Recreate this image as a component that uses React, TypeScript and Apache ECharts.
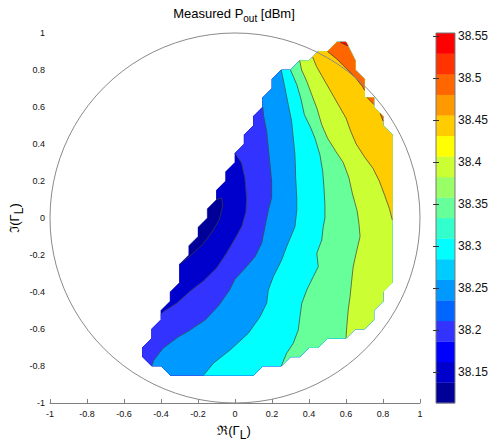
import React, { useEffect, useRef } from 'react';
import * as echarts from 'echarts';

// ---------- data (reflection coefficient plane, Gamma_L) ----------
// outer limit of the measured region (grid steps of 0.05), listed around the region
const boundary: number[][] = [
  [-0.2, -0.1], [-0.2, -0.05], [-0.15, 0], [-0.15, 0.05], [-0.1, 0.1], [-0.1, 0.15], [-0.05, 0.2], [-0.05, 0.25], [0, 0.3], [0, 0.35],
  [0.05, 0.4], [0.05, 0.45], [0.1, 0.5], [0.1, 0.55], [0.15, 0.6], [0.15, 0.65], [0.2, 0.7], [0.2, 0.75], [0.25, 0.8], [0.3, 0.8],
  [0.35, 0.85], [0.4, 0.85], [0.42, 0.87], [0.45, 0.9], [0.5, 0.9], [0.55, 0.95], [0.57, 0.95], [0.6, 0.95], [0.61, 0.93], [0.65, 0.85],
  [0.65, 0.8], [0.7, 0.75], [0.7, 0.69], [0.7, 0.65], [0.715, 0.65], [0.75, 0.65], [0.75, 0.615], [0.75, 0.6], [0.785, 0.565], [0.8, 0.55],
  [0.8, 0.525], [0.8, 0.5], [0.85, 0.45], [0.85, -0.01], [0.85, -0.35], [0.8, -0.4], [0.8, -0.45], [0.75, -0.5], [0.75, -0.55], [0.7, -0.6],
  [0.65, -0.6], [0.6, -0.65], [0.5, -0.65], [0.45, -0.7], [0.4, -0.7], [0.35, -0.75], [0.3, -0.75], [0.25, -0.8], [0.15, -0.8], [0.1, -0.85],
  [-0.17, -0.85], [-0.35, -0.85], [-0.4, -0.8], [-0.45, -0.8], [-0.5, -0.75], [-0.5, -0.7], [-0.45, -0.65], [-0.45, -0.6], [-0.4, -0.55], [-0.4, -0.52],
  [-0.4, -0.5], [-0.35, -0.45], [-0.35, -0.4], [-0.3, -0.35], [-0.3, -0.3], [-0.3, -0.25], [-0.25, -0.2], [-0.25, -0.15],
];

// contour lines (first and last points lie on the boundary)
const c3815: number[][] = [[-0.1, 0.1], [-0.072, 0.108], [-0.066, 0.065], [-0.086, -0.011], [-0.124, -0.076], [-0.178, -0.146], [-0.243, -0.205], [-0.3, -0.25]];
const c3820: number[][] = [[0, 0.35], [0.036, 0.297], [0.054, 0.216], [0.063, 0.108], [0.059, 0.032], [0.038, -0.043], [0.009, -0.097], [-0.045, -0.189], [-0.099, -0.27], [-0.17, -0.34], [-0.238, -0.392], [-0.315, -0.461], [-0.385, -0.505], [-0.4, -0.52]];
const c3825: number[][] = [[0.15, 0.6], [0.155, 0.55], [0.171, 0.47], [0.18, 0.38], [0.189, 0.29], [0.198, 0.2], [0.198, 0.11], [0.18, 0.04], [0.162, -0.047], [0.144, -0.137], [0.108, -0.209], [0.054, -0.272], [0.0, -0.33], [-0.03, -0.39], [-0.09, -0.475], [-0.16, -0.55], [-0.25, -0.61], [-0.31, -0.645], [-0.39, -0.705], [-0.44, -0.77], [-0.45, -0.8]];
const c3830: number[][] = [[0.25, 0.8], [0.27, 0.703], [0.288, 0.612], [0.306, 0.523], [0.315, 0.432], [0.324, 0.342], [0.328, 0.216], [0.334, 0.108], [0.334, 0.043], [0.324, -0.047], [0.279, -0.155], [0.252, -0.227], [0.207, -0.317], [0.18, -0.389], [0.171, -0.461], [0.135, -0.534], [0.072, -0.623], [-0.027, -0.714], [-0.117, -0.785], [-0.17, -0.85]];
const c3835: number[][] = [[0.3, 0.8], [0.334, 0.721], [0.355, 0.649], [0.375, 0.558], [0.41, 0.486], [0.432, 0.432], [0.459, 0.342], [0.474, 0.252], [0.481, 0.162], [0.486, 0.072], [0.486, 0], [0.477, -0.047], [0.469, -0.119], [0.442, -0.191], [0.45, -0.263], [0.423, -0.317], [0.388, -0.389], [0.361, -0.461], [0.351, -0.534], [0.342, -0.605], [0.315, -0.677], [0.279, -0.731], [0.25, -0.8]];
const c3840: number[][] = [[0.35, 0.85], [0.36, 0.8], [0.388, 0.739], [0.415, 0.666], [0.442, 0.595], [0.469, 0.504], [0.5, 0.432], [0.545, 0.36], [0.585, 0.3], [0.615, 0.22], [0.635, 0.13], [0.66, 0.04], [0.67, -0.03], [0.676, -0.1], [0.655, -0.19], [0.639, -0.263], [0.631, -0.335], [0.622, -0.425], [0.612, -0.497], [0.604, -0.588], [0.6, -0.65]];
const c3845: number[][] = [[0.42, 0.87], [0.44, 0.82], [0.48, 0.75], [0.52, 0.68], [0.56, 0.61], [0.6, 0.54], [0.625, 0.47], [0.655, 0.4], [0.7, 0.33], [0.745, 0.27], [0.78, 0.2], [0.81, 0.12], [0.835, 0.05], [0.85, -0.01]];
const c3850: number[][] = [[0.5, 0.9], [0.55, 0.86], [0.6, 0.81], [0.65, 0.76], [0.69, 0.71], [0.7, 0.69]];
const c3850b: number[][] = [[0.715, 0.65], [0.75, 0.615]];
const c3850c: number[][] = [[0.785, 0.565], [0.8, 0.525]];
const c3855: number[][] = [[0.57, 0.95], [0.61, 0.93]];

const contourLevels: number[] = [38.15, 38.2, 38.25, 38.3, 38.35, 38.4, 38.45, 38.5, 38.5, 38.5, 38.55];
const contourLines: number[][][] = [c3815, c3820, c3825, c3830, c3835, c3840, c3845, c3850, c3850b, c3850c, c3855];

// colour bar
const cbMin = 38.113;
const cbMax = 38.554;
const cbTicks: number[] = [38.15, 38.2, 38.25, 38.3, 38.35, 38.4, 38.45, 38.5, 38.55];
const colormap: string[] = [
  '#000099', '#0000cc', '#0000ff', '#3333ff', '#0066ff', '#0099ff', '#00ccff', '#00ffff', '#33ffcc',
  '#66ff99', '#99ff66', '#ccff33', '#ffff00', '#ffcc00', '#ff9900', '#ff6600', '#ff3300', '#ff0000',
];

// ---------- helpers ----------
const FONT = '"Liberation Sans", Arial, Helvetica, sans-serif';

function colorFor(v: number): string {
  const n = colormap.length;
  const i = Math.max(0, Math.min(n - 1, Math.floor(((v - cbMin) / (cbMax - cbMin)) * n)));
  return colormap[i];
}

function idxOf(p: number[]): number {
  return boundary.findIndex((q) => q[0] === p[0] && q[1] === p[1]);
}

function regionPoly(line: number[][]): number[][] {
  const a = idxOf(line[0]);
  const b = idxOf(line[line.length - 1]);
  const arc = boundary.slice(a, b + 1);
  return arc.concat(line.slice(1, -1).reverse());
}

const regionList = [{ poly: boundary, color: colorFor(cbMin) }].concat(
  contourLines.map((line, i) => ({ poly: regionPoly(line), color: colorFor(contourLevels[i]) }))
);

function measure(text: string, size: number): number {
  const ctx = document.createElement('canvas').getContext('2d');
  if (!ctx) return text.length * size * 0.55;
  ctx.font = `${size}px ${FONT}`;
  return ctx.measureText(text).width;
}

type Part = { t: string; size: number; dy: number };

function buildLabel(parts: Part[], cx: number, cy: number): any[] {
  const widths = parts.map((p) => measure(p.t, p.size));
  const total = widths.reduce((a, b) => a + b, 0);
  let x = cx - total / 2;
  const out: any[] = [];
  parts.forEach((p, i) => {
    const lead = p.t.length - p.t.replace(/^\s+/, '').length;
    const leadW = lead > 0 ? measure(p.t.slice(0, lead), p.size) : 0;
    out.push({
      type: 'text',
      x: x + leadW,
      y: cy + p.dy,
      silent: true,
      style: {
        text: p.t.trim(),
        font: `${p.size}px ${FONT}`,
        fill: '#000',
        textAlign: 'left',
        textVerticalAlign: 'middle',
        align: 'left',
        verticalAlign: 'middle',
      },
    });
    x += widths[i];
  });
  return out;
}

export default function App() {
  const ref = useRef<HTMLDivElement>(null);

  useEffect(() => {
    if (!ref.current) return;
    const chart = echarts.init(ref.current, null, { renderer: 'svg' });

    const axisColor = '#808080';
    const option: any = {
      animation: false,
      backgroundColor: '#ffffff',
      grid: [
        { left: 50, top: 33, width: 370, height: 370 },
        { left: 436, top: 33, width: 21, height: 370 },
      ],
      xAxis: [
        {
          gridIndex: 0, type: 'value', min: -1, max: 1, interval: 0.2,
          axisLine: { show: true, onZero: false, lineStyle: { color: axisColor, width: 1 } },
          axisTick: { show: true, inside: true, length: 4, lineStyle: { color: axisColor } },
          axisLabel: { fontSize: 9, color: '#111', margin: 6, fontFamily: FONT },
          splitLine: { show: false },
        },
        { gridIndex: 1, type: 'value', min: 0, max: 1, show: false },
      ],
      yAxis: [
        {
          gridIndex: 0, type: 'value', min: -1, max: 1, interval: 0.2,
          axisLine: { show: false, onZero: false },
          axisTick: { show: false },
          axisLabel: { fontSize: 9, color: '#111', margin: 5, fontFamily: FONT },
          splitLine: { show: false },
        },
        {
          gridIndex: 1, type: 'value', min: cbMin, max: cbMax, position: 'right', z: 5,
          axisLine: { show: false },
          axisTick: { show: true, inside: true, length: 3, customValues: cbTicks, lineStyle: { color: '#333' } },
          axisLabel: {
            customValues: cbTicks, fontSize: 12, color: '#111', margin: 3, fontFamily: FONT,
            formatter: (v: number) => String(+Number(v).toFixed(2)),
          },
          splitLine: { show: false },
        },
        {
          gridIndex: 1, type: 'value', min: cbMin, max: cbMax, position: 'left', z: 5,
          axisLine: { show: false },
          axisTick: { show: true, inside: true, length: 3, customValues: cbTicks, lineStyle: { color: '#333' } },
          axisLabel: { show: false, customValues: cbTicks },
          splitLine: { show: false },
        },
      ],
      series: [
        {
          type: 'custom', name: 'regions', xAxisIndex: 0, yAxisIndex: 0, silent: true, clip: false, z: 2,
          data: regionList.map(() => [0, 0]),
          renderItem: (params: any, api: any) => {
            const r = regionList[params.dataIndex];
            return {
              type: 'polygon',
              shape: { points: r.poly.map((p) => api.coord(p)) },
              style: { fill: r.color, stroke: r.color, lineWidth: 0.4 },
            };
          },
        },
        {
          type: 'custom', name: 'contours', xAxisIndex: 0, yAxisIndex: 0, silent: true, clip: false, z: 3,
          data: contourLines.map(() => [0, 0]),
          renderItem: (params: any, api: any) => {
            const line = contourLines[params.dataIndex];
            return {
              type: 'polyline',
              shape: { points: line.map((p) => api.coord(p)) },
              style: { fill: null, stroke: '#3c3c3c', lineWidth: 0.7 },
            };
          },
        },
        {
          type: 'custom', name: 'circle', xAxisIndex: 0, yAxisIndex: 0, silent: true, clip: false, z: 4,
          data: [[0, 0]],
          renderItem: (params: any, api: any) => {
            const c = api.coord([0, 0]);
            const r = api.size([1, 1])[0];
            return {
              type: 'circle',
              shape: { cx: c[0], cy: c[1], r },
              style: { fill: null, stroke: '#8a8a8a', lineWidth: 1 },
            };
          },
        },
        {
          type: 'custom', name: 'colorbar', xAxisIndex: 1, yAxisIndex: 1, silent: true, clip: false, z: 2,
          data: colormap.map(() => [0, cbMin]).concat([[0, cbMin]]),
          renderItem: (params: any, api: any) => {
            const n = colormap.length;
            const step = (cbMax - cbMin) / n;
            if (params.dataIndex === n) {
              const p1 = api.coord([0, cbMax]);
              const p2 = api.coord([1, cbMin]);
              return {
                type: 'rect',
                shape: { x: p1[0], y: p1[1], width: p2[0] - p1[0], height: p2[1] - p1[1] },
                style: { fill: null, stroke: '#777', lineWidth: 1 },
                z2: 10,
              };
            }
            const lo = cbMin + params.dataIndex * step;
            const hi = lo + step;
            const p1 = api.coord([0, hi]);
            const p2 = api.coord([1, lo]);
            return {
              type: 'rect',
              shape: { x: p1[0], y: p1[1], width: p2[0] - p1[0], height: p2[1] - p1[1] + 0.3 },
              style: { fill: colormap[params.dataIndex] },
            };
          },
        },
      ],
      graphic: [
        ...buildLabel(
          [
            { t: 'Measured P', size: 13, dy: 0 },
            { t: 'out', size: 10, dy: 5 },
            { t: ' [dBm]', size: 13, dy: 0 },
          ],
          234, 13
        ),
        ...buildLabel(
          [
            { t: '\u211C(\u0393', size: 13, dy: 0 },
            { t: 'L', size: 12, dy: 5 },
            { t: ')', size: 13, dy: 0 },
          ],
          234, 430
        ),
        {
          type: 'group',
          x: 14,
          y: 218,
          rotation: Math.PI / 2,
          children: buildLabel(
            [
              { t: '\u2111(\u0393', size: 13, dy: 0 },
              { t: 'L', size: 12, dy: 5 },
              { t: ')', size: 13, dy: 0 },
            ],
            0, 0
          ),
        },
      ],
    };

    chart.setOption(option);
    return () => chart.dispose();
  }, []);

  return (
    <div
      ref={ref}
      style={{ position: 'fixed', left: 0, top: 0, width: 491, height: 446, background: '#fff' }}
    />
  );
}
